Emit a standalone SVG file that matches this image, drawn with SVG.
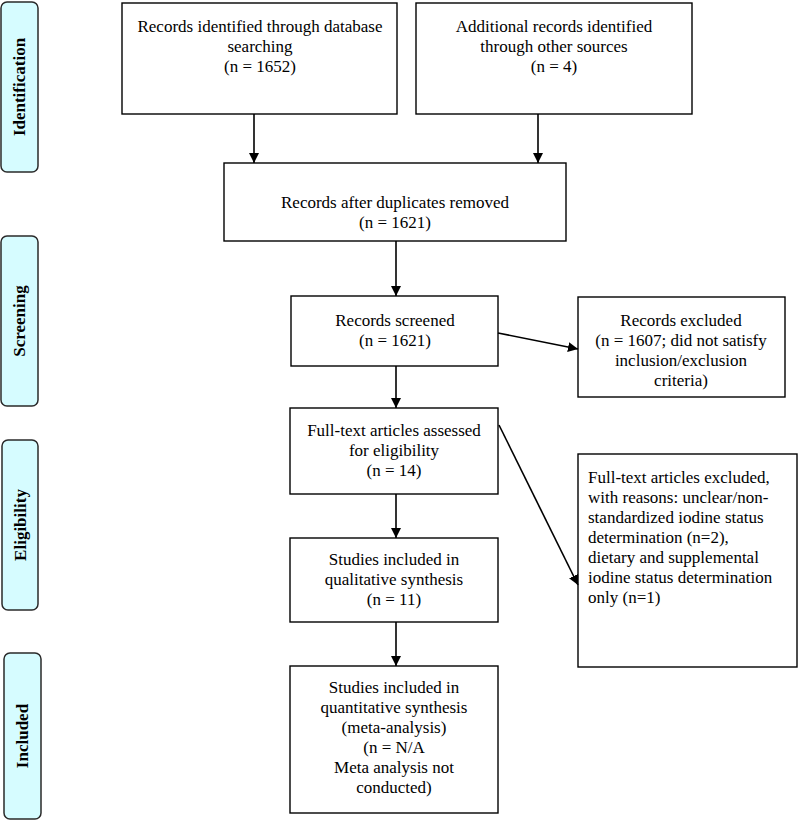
<svg xmlns="http://www.w3.org/2000/svg" width="798" height="822" viewBox="0 0 798 822">
<defs>
<style>
.side{fill:#d6fcff;stroke:#2a2a2a;stroke-width:1.5}
.box{fill:#ffffff;stroke:#000000;stroke-width:1.4}
.lbl{font-family:"Liberation Serif","Times New Roman",serif;font-size:17px;font-weight:bold;fill:#000;text-anchor:middle}
.t{font-family:"Liberation Serif","Times New Roman",serif;font-size:17px;fill:#000;text-anchor:middle}
.tl{font-family:"Liberation Serif","Times New Roman",serif;font-size:17px;fill:#000;text-anchor:start}
.c{stroke:#000;stroke-width:1.6;fill:none;marker-end:url(#ah)}
</style>
<marker id="ah" viewBox="0 0 10 10" refX="10" refY="5" markerWidth="10" markerHeight="10" markerUnits="userSpaceOnUse" orient="auto">
<path d="M0,0 L10,5 L0,10 z" fill="#000"/>
</marker>
</defs>
<rect width="798" height="822" fill="#ffffff"/>

<g id="stage-identification">
<rect class="side" x="1" y="2" width="37" height="170" rx="6"/>
<text class="lbl" transform="translate(25,87) rotate(-90)">Identification</text>
</g>
<g id="stage-screening">
<rect class="side" x="1" y="236" width="37" height="170" rx="6"/>
<text class="lbl" transform="translate(25,321) rotate(-90)">Screening</text>
</g>
<g id="stage-eligibility">
<rect class="side" x="2" y="440" width="36" height="170" rx="6"/>
<text class="lbl" transform="translate(26,525) rotate(-90)">Eligibility</text>
</g>
<g id="stage-included">
<rect class="side" x="4" y="653" width="37" height="166" rx="6"/>
<text class="lbl" transform="translate(28,736) rotate(-90)">Included</text>
</g>

<g id="db-search">
<rect class="box" x="122" y="3" width="275" height="111"/>
<text class="t" x="260" y="32">Records identified through database</text>
<text class="t" x="260" y="52">searching</text>
<text class="t" x="260" y="72">(n = 1652)</text>
</g>
<g id="other-sources">
<rect class="box" x="416" y="3" width="276" height="111"/>
<text class="t" x="554" y="32">Additional records identified</text>
<text class="t" x="554" y="52">through other sources</text>
<text class="t" x="554" y="72">(n = 4)</text>
</g>
<g id="duplicates-removed">
<rect class="box" x="224" y="163" width="342" height="78"/>
<text class="t" x="395" y="208">Records after duplicates removed</text>
<text class="t" x="395" y="228">(n = 1621)</text>
</g>
<g id="screened">
<rect class="box" x="291" y="296" width="207" height="70"/>
<text class="t" x="395" y="326">Records screened</text>
<text class="t" x="395" y="346">(n = 1621)</text>
</g>
<g id="excluded">
<rect class="box" x="578" y="297" width="207" height="100"/>
<text class="t" x="681" y="326">Records excluded</text>
<text class="t" x="681" y="346">(n = 1607; did not satisfy</text>
<text class="t" x="681" y="366">inclusion/exclusion</text>
<text class="t" x="681" y="386">criteria)</text>
</g>
<g id="fulltext-assessed">
<rect class="box" x="290" y="408" width="208" height="86"/>
<text class="t" x="394" y="436">Full-text articles assessed</text>
<text class="t" x="394" y="456">for eligibility</text>
<text class="t" x="394" y="476">(n = 14)</text>
</g>
<g id="fulltext-excluded">
<rect class="box" x="578" y="454" width="219" height="213"/>
<text class="tl" x="588" y="483">Full-text articles excluded,</text>
<text class="tl" x="588" y="503">with reasons: unclear/non-</text>
<text class="tl" x="588" y="523">standardized iodine status</text>
<text class="tl" x="588" y="543">determination (n=2),</text>
<text class="tl" x="588" y="563">dietary and supplemental</text>
<text class="tl" x="588" y="583">iodine status determination</text>
<text class="tl" x="588" y="603">only (n=1)</text>
</g>
<g id="qualitative">
<rect class="box" x="290" y="538" width="208" height="84"/>
<text class="t" x="394" y="565">Studies included in</text>
<text class="t" x="394" y="585">qualitative synthesis</text>
<text class="t" x="394" y="605">(n = 11)</text>
</g>
<g id="quantitative">
<rect class="box" x="290" y="666" width="208" height="147"/>
<text class="t" x="394" y="693">Studies included in</text>
<text class="t" x="394" y="713">quantitative synthesis</text>
<text class="t" x="394" y="733">(meta-analysis)</text>
<text class="t" x="394" y="753">(n = N/A</text>
<text class="t" x="394" y="773">Meta analysis not</text>
<text class="t" x="394" y="793">conducted)</text>
</g>

<g id="connectors">
<line class="c" x1="254" y1="114" x2="254" y2="163"/>
<line class="c" x1="538" y1="114" x2="538" y2="163"/>
<line class="c" x1="396" y1="241" x2="396" y2="296"/>
<line class="c" x1="498" y1="333" x2="578" y2="349"/>
<line class="c" x1="396" y1="366" x2="396" y2="408"/>
<line class="c" x1="499" y1="425" x2="578" y2="585"/>
<line class="c" x1="396" y1="494" x2="396" y2="538"/>
<line class="c" x1="396" y1="622" x2="396" y2="666"/>
</g>
</svg>
